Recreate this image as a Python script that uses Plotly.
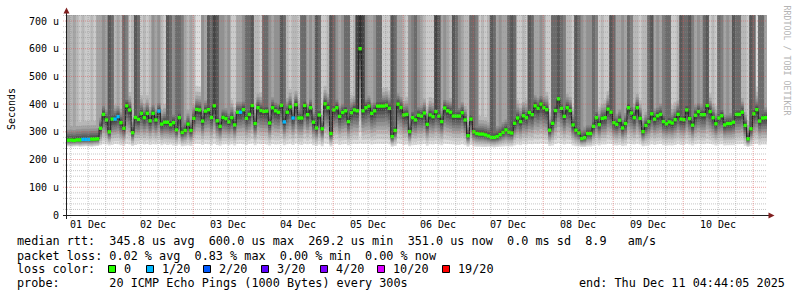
import pandas as pd
import plotly.graph_objects as go

# ---------------- data ----------------
start = pd.Timestamp("2025-12-01 04:44:05")
end = pd.Timestamp("2025-12-11 04:44:05")
y_top = 721.65  # microseconds at top of plot

# hourly median RTT (microseconds)
median_us = [
    270, 270, 269, 271, 271, 273, 273, 273, 274, 274, 275,
    313, 363, 343, 300, 346, 346, 355, 333, 313, 394, 379, 297, 352, 345, 367, 351, 367, 340, 367, 343,
    375, 328, 335, 335, 326, 333, 307, 351, 298, 305, 328, 305, 349, 381, 379, 339, 375, 380,
    352, 394, 340, 320, 352, 348, 336, 351, 325, 371, 371, 380, 349, 363, 395, 330, 387, 377, 374, 375,
    332, 387, 376, 371, 396, 336, 371, 390, 350, 398, 350, 350, 395, 362, 387, 335, 314, 361, 311, 401,
    387, 294, 379, 387, 356, 370, 376,
    337, 369, 379, 376, 600, 376, 387, 393, 367, 376, 393, 393, 393, 396, 385, 283, 305, 400, 388, 361,
    363, 301, 351, 343, 360, 357, 368, 327, 361, 355, 373, 357, 337, 386, 376, 371, 357, 357, 357, 369,
    343, 286, 346, 300, 294, 292, 292, 289,
    285, 280, 280, 283, 290, 298, 307, 299, 296, 331, 350, 337, 358, 351, 370, 362, 394, 385, 400, 387,
    380, 306, 331, 377, 419, 385, 356, 387, 377, 325, 306, 296, 276, 279, 294, 294, 320, 351, 326, 349,
    351, 382, 371, 333, 327, 342, 314,
    330, 387, 368, 351, 387, 349, 301, 323, 337, 365, 346, 358, 363, 337, 329, 336, 332, 344, 363, 346,
    344, 379, 348, 324, 360, 373, 362, 362, 395, 373, 351, 329, 350, 358, 325, 330, 330, 335, 363, 363,
    371, 323, 275, 311, 365, 380, 339, 350, 351,
]

# hourly lowest ping (bottom of the smoke, microseconds)
ping_min_us = [
    247, 246, 247, 248, 246, 247, 248, 247, 246, 248,
    249, 252, 255, 254, 251, 253, 256, 255, 252, 250,
    256, 254, 249, 253, 255, 257, 254, 256, 253, 255,
    254, 256, 252, 255, 253, 254, 251, 250, 254, 248,
    250, 252, 249, 255, 257, 256, 253, 256, 255, 252,
    257, 253, 250, 254, 255, 252, 255, 251, 256, 257,
    255, 253, 256, 258, 252, 257, 255, 256, 254, 251,
    256, 254, 255, 258, 252, 255, 257, 253, 258, 254,
    253, 257, 255, 257, 252, 249, 254, 248, 258, 256,
    247, 255, 257, 253, 255, 256, 252, 255, 257, 256,
    258, 256, 257, 258, 254, 256, 257, 257, 256, 258,
    255, 246, 249, 258, 256, 253, 254, 248, 252, 253,
    254, 254, 256, 250, 255, 254, 256, 254, 252, 257,
    256, 255, 254, 253, 253, 255, 252, 246, 253, 247,
    246, 246, 245, 245, 246, 245, 244, 245, 246, 247,
    248, 247, 247, 251, 254, 252, 255, 254, 256, 255,
    257, 256, 258, 257, 256, 249, 251, 256, 259, 257,
    254, 257, 256, 251, 248, 247, 245, 245, 247, 247,
    250, 254, 251, 254, 254, 257, 256, 252, 251, 253,
    249, 251, 257, 255, 254, 257, 254, 248, 250, 252,
    255, 253, 255, 256, 252, 251, 252, 251, 253, 256,
    253, 253, 257, 254, 251, 255, 257, 255, 255, 258,
    256, 254, 251, 254, 255, 251, 252, 252, 252, 255,
    255, 256, 250, 245, 249, 255, 257, 252, 254, 254,
]

# hourly count of the 20 pings that lie above the top of the chart
pings_over_top = [
    4, 3, 4, 3, 2, 3, 2, 2, 3, 2, 4, 4, 5, 4, 8, 7, 3, 4, 3, 7,
    6, 2, 3, 8, 7, 2, 3, 2, 3, 5, 4, 5, 3, 2, 8, 7, 5, 7, 7, 6,
    4, 3, 4, 3, 1, 1, 5, 4, 8, 7, 9, 8, 5, 5, 4, 5, 2, 2, 4, 4,
    5, 7, 7, 8, 3, 3, 2, 7, 7, 5, 4, 5, 5, 8, 7, 3, 2, 3, 3, 2,
    7, 7, 4, 5, 4, 8, 7, 2, 2, 3, 8, 7, 5, 4, 5, 7, 7, 2, 3, 9,
    10, 9, 5, 4, 4, 5, 7, 7, 2, 2, 2, 8, 7, 4, 4, 3, 2, 5, 6, 7,
    5, 4, 3, 2, 2, 2, 9, 8, 4, 5, 4, 3, 8, 7, 5, 4, 3, 3, 7, 7,
    6, 2, 3, 2, 3, 8, 7, 4, 5, 4, 4, 7, 8, 7, 2, 2, 3, 2, 8, 7,
    4, 4, 5, 4, 2, 2, 7, 7, 8, 7, 6, 3, 3, 2, 8, 7, 5, 4, 5, 5,
    7, 6, 2, 3, 2, 2, 8, 7, 4, 4, 5, 4, 7, 6, 3, 3, 2, 3, 3, 7,
    8, 4, 5, 4, 6, 7, 7, 2, 2, 3, 8, 7, 7, 8, 6, 4, 5, 4, 7, 8,
    2, 3, 2, 7, 6, 4, 5, 4, 8, 7, 7, 3, 3, 2, 8, 7, 1, 7, 7, 4,
]

# hours with packet loss (index) and loss in percent
loss_hours = [5, 6, 7, 16, 17, 31, 59, 74, 77]
loss_percent = [0.5, 0.83, 0.5, 0.5, 0.5, 0.5, 0.5, 0.5, 0.5]

day_labels = ["01 Dec", "02 Dec", "03 Dec", "04 Dec", "05 Dec",
              "06 Dec", "07 Dec", "08 Dec", "09 Dec", "10 Dec"]
y_tick_vals = [0, 100, 200, 300, 400, 500, 600, 700]
y_tick_text = ["0", "100 u", "200 u", "300 u", "400 u", "500 u", "600 u", "700 u"]

loss_color_labels = ["0", "1/20", "2/20", "3/20", "4/20", "10/20", "19/20"]
loss_color_pings = [0, 1, 2, 3, 4, 10, 19]
loss_colors = ["#26ff00", "#00b8ff", "#0059ff", "#5e00ff", "#7e00ff", "#dd00ff", "#ff0000"]

legend_rtt = "median rtt:  345.8 us avg  600.0 us max  269.2 us min  351.0 us now  0.0 ms sd  8.9   am/s"
legend_loss = "packet loss: 0.02 % avg  0.83 % max  0.00 % min  0.00 % now"
legend_color = "loss color:"
legend_probe = "probe:       20 ICMP Echo Pings (1000 Bytes) every 300s"
legend_end = "end: Thu Dec 11 04:44:05 2025"

assert len(median_us) == 240 and len(ping_min_us) == 240 and len(pings_over_top) == 240

# ---------------- derived ----------------
N = len(median_us)
step_start = pd.date_range(start, periods=N + 1, freq="h")
step_mid = step_start[:-1] + pd.Timedelta(minutes=30)
x_steps = list(step_start)

loss = [0.0] * N
for h, p in zip(loss_hours, loss_percent):
    loss[h] = p

# smoke profile (style of the 20 sorted pings around the median)
lower_frac = [0.0, 0.12, 0.25, 0.37, 0.48, 0.58, 0.68, 0.78, 0.87, 0.95]
upper_off = [3, 8, 14, 21, 29, 38, 50, 65, 85, 110]
ABOVE = 2000

pings = [[0.0] * N for _ in range(20)]
for i in range(N):
    m, lo, n_over = median_us[i], ping_min_us[i], pings_over_top[i]
    for k in range(10):
        pings[k][i] = lo + (m - lo) * lower_frac[k]
        idx = 10 + k
        pings[idx][i] = ABOVE if idx >= 20 - n_over else m + upper_off[k]

fig = go.Figure()
mono = "DejaVu Sans Mono"

for k in range(10):
    g = int(190 / 10 * (10 - (k + 1))) + 50
    col = "#%02x%02x%02x" % (g, g, g)
    lo_vals = pings[k] + [pings[k][-1]]
    hi_vals = pings[19 - k] + [pings[19 - k][-1]]
    fig.add_trace(go.Scatter(x=x_steps, y=lo_vals, mode="lines", line=dict(width=0, shape="hv"),
                             hoverinfo="skip", showlegend=False))
    fig.add_trace(go.Scatter(x=x_steps, y=hi_vals, mode="lines", line=dict(width=0, shape="hv"),
                             fill="tonexty", fillcolor=col, hoverinfo="skip", showlegend=False))

fig.add_trace(go.Scatter(x=x_steps, y=median_us + [median_us[-1]], mode="lines",
                         line=dict(color="#202020", width=1, shape="hv"),
                         hoverinfo="skip", showlegend=False))


def loss_col(p):
    lp = p / 100 * 20
    if lp <= 0:
        return loss_colors[0]
    for th, c in zip(loss_color_pings[1:], loss_colors[1:]):
        if lp <= th:
            return c
    return loss_colors[-1]


fig.add_trace(go.Scatter(x=list(step_mid), y=median_us, mode="markers",
                         marker=dict(symbol="square", size=3.4, color=[loss_col(p) for p in loss],
                                     line=dict(width=0)),
                         hoverinfo="skip", showlegend=False))

# ---------------- layout ----------------
PL, PR, PT, PB = 67, 767, 15, 215


def fx(px):
    return (px - PL) / (PR - PL)


def fy(py):
    return (PB - py) / (PB - PT)


MINOR = "rgba(143,143,143,0.5)"
MAJOR = "rgba(222,79,79,0.5)"
shapes = []
# horizontal grid
for v in range(20, 721, 20):
    major = v % 100 == 0
    shapes.append(dict(type="line", xref="paper", yref="y", x0=fx(63), x1=1, y0=v, y1=v,
                       layer="above",
                       line=dict(color=MAJOR if major else MINOR, width=1, dash="1px,1px")))
# vertical grid every 6 h
for t in pd.date_range("2025-12-01 06:00", end, freq="6h"):
    major = t.hour == 0
    shapes.append(dict(type="line", xref="x", yref="paper", x0=t, x1=t, y0=fy(218), y1=1,
                       layer="above",
                       line=dict(color=MAJOR if major else MINOR, width=1, dash="1px,1px")))
# axes
axis_col = "rgb(31,31,31)"
arrow_col = "rgb(128,31,31)"
shapes.append(dict(type="line", xref="paper", yref="paper", x0=fx(63), x1=fx(769), y0=fy(215.5), y1=fy(215.5),
                   layer="above", line=dict(color=axis_col, width=1)))
shapes.append(dict(type="line", xref="paper", yref="paper", x0=fx(66.5), x1=fx(66.5), y0=fy(219), y1=fy(12),
                   layer="above", line=dict(color=axis_col, width=1)))


def ppath(pts):
    return "M " + " L ".join("%f,%f" % (fx(a), fy(b)) for a, b in pts) + " Z"


shapes.append(dict(type="path", xref="paper", yref="paper", layer="above",
                   path=ppath([(63.5, 13.5), (69.5, 13.5), (66.5, 7.5)]),
                   fillcolor=arrow_col, line=dict(width=0)))
shapes.append(dict(type="path", xref="paper", yref="paper", layer="above",
                   path=ppath([(768.5, 212.5), (768.5, 218.5), (774.5, 215.5)]),
                   fillcolor=arrow_col, line=dict(width=0)))

annotations = []


def txt(s, px, py, size, anchor="left", color="black", angle=0, yanchor="middle"):
    annotations.append(dict(text=s.replace(" ", "\u00a0"), xref="paper", yref="paper",
                            x=fx(px), y=fy(py), xanchor=anchor, yanchor=yanchor,
                            showarrow=False, borderpad=0, textangle=angle,
                            font=dict(family=mono, size=size, color=color)))


# y tick labels
for v, t in zip(y_tick_vals, y_tick_text):
    annotations.append(dict(text=t.replace(" ", "\u00a0"), xref="paper", yref="y", x=fx(59.5), y=v,
                            xanchor="right", yanchor="middle", showarrow=False, borderpad=0,
                            font=dict(family=mono, size=10, color="black")))
# x tick labels at noon
for d, lab in enumerate(day_labels):
    t = pd.Timestamp("2025-12-01 12:00") + pd.Timedelta(days=d)
    annotations.append(dict(text=lab.replace(" ", "\u00a0"), xref="x", yref="paper", x=t, y=fy(224.5),
                            xanchor="center", yanchor="middle", showarrow=False, borderpad=0,
                            font=dict(family=mono, size=10, color="black")))

txt("Seconds", 11, 109, 10, anchor="center", angle=-90)
txt("RRDTOOL / TOBI OETIKER", 786.5, 60, 8.3, anchor="center", color="#b4b4b4", angle=90)

txt(legend_rtt, 16, 241, 11.8)
txt(legend_loss, 16, 255.5, 11.8)
txt(legend_color, 16, 269, 11.8)
txt(legend_probe, 16, 283, 11.8)
txt(legend_end, 578, 283, 11.8)

box_left = [108.5, 146.5, 203.5, 261.5, 320.5, 377.5, 442.5]
for bl, lab, c in zip(box_left, loss_color_labels, loss_colors):
    shapes.append(dict(type="rect", xref="paper", yref="paper", x0=fx(bl), x1=fx(bl + 7),
                       y0=fy(265.5), y1=fy(272.5), fillcolor=c, layer="above",
                       line=dict(color="black", width=1)))
    txt(lab, bl + 14.5, 269, 11.8)

fig.update_layout(
    width=797, height=297,
    margin=dict(l=PL, r=797 - PR, t=PT, b=297 - PB, pad=0),
    paper_bgcolor="white", plot_bgcolor="white",
    showlegend=False, hovermode=False,
    xaxis=dict(range=[start, end], type="date", showgrid=False, zeroline=False,
               showticklabels=False, showline=False, ticks=""),
    yaxis=dict(range=[0, y_top], showgrid=False, zeroline=False,
               showticklabels=False, showline=False, ticks=""),
    shapes=shapes, annotations=annotations,
)

fig.write_html("out.html", config={"displayModeBar": False})
